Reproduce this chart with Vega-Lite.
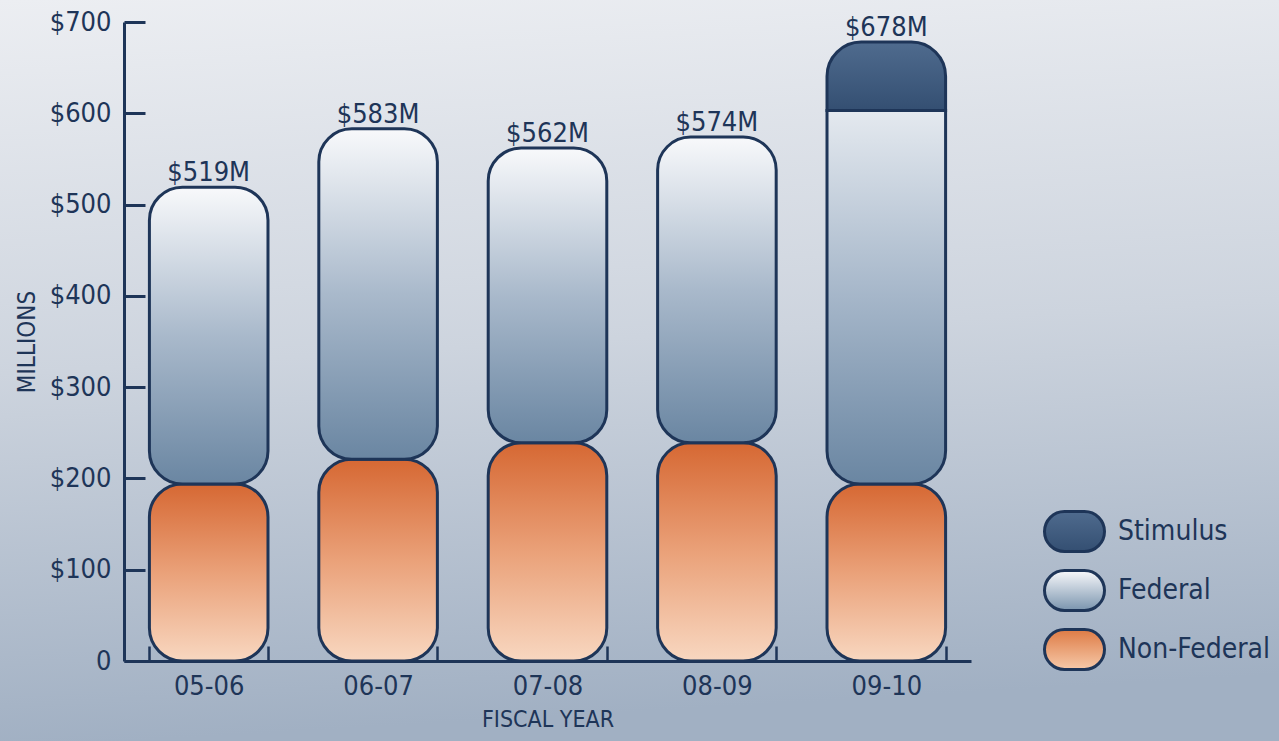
{
  "$schema": "https://vega.github.io/schema/vega-lite/v6.json",
  "width": 1279,
  "height": 741,
  "autosize": "none",
  "padding": 0,
  "background": "#c8d1dc",
  "view": {
    "stroke": null,
    "fill": {"gradient": "linear", "x1": 0, "y1": 0, "x2": 0.1, "y2": 1,
      "stops": [{"offset": 0, "color": "#eceef2"}, {"offset": 0.5, "color": "#cdd4de"}, {"offset": 1, "color": "#a1b0c3"}]}
  },
  "datasets": {
    "funding": [
      {"year": "05-06", "type": "Non-Federal", "value": 194},
      {"year": "05-06", "type": "Federal", "value": 325},
      {"year": "06-07", "type": "Non-Federal", "value": 221},
      {"year": "06-07", "type": "Federal", "value": 362},
      {"year": "07-08", "type": "Non-Federal", "value": 239},
      {"year": "07-08", "type": "Federal", "value": 323},
      {"year": "08-09", "type": "Non-Federal", "value": 239},
      {"year": "08-09", "type": "Federal", "value": 335},
      {"year": "09-10", "type": "Non-Federal", "value": 194},
      {"year": "09-10", "type": "Federal", "value": 409},
      {"year": "09-10", "type": "Stimulus", "value": 75}
    ],
    "totals": [
      {"year": "05-06", "total": 519, "label": "$519M"},
      {"year": "06-07", "total": 583, "label": "$583M"},
      {"year": "07-08", "total": 562, "label": "$562M"},
      {"year": "08-09", "total": 574, "label": "$574M"},
      {"year": "09-10", "total": 678, "label": "$678M"}
    ]
  },
  "encoding": {
    "x": {
      "field": "year", "type": "nominal", "sort": null,
      "scale": {"range": [124, 971], "paddingInner": 0.3, "paddingOuter": 0.15},
      "axis": {
        "orient": "bottom", "offset": -80, "tickBand": "extent", "tickSize": -15, "tickWidth": 2.5,
        "tickColor": "#1e3558", "domainColor": "#1e3558", "domainWidth": 3,
        "labelAngle": 0, "labelPadding": 27, "labelFontSize": 27,
        "labelFont": "Liberation Sans Narrow, DejaVu Sans Condensed, sans-serif", "labelColor": "#1e3558",
        "title": "FISCAL YEAR", "titleFontSize": 23, "titleFontWeight": "normal",
        "titleFont": "Liberation Sans Narrow, DejaVu Sans Condensed, sans-serif", "titleColor": "#1e3558", "titlePadding": 9
      }
    }
  },
  "layer": [
    {
      "data": {"name": "funding"},
      "transform": [
        {"stack": "value", "groupby": ["year"], "as": ["v0", "v1"]}
      ],
      "mark": {"type": "rule", "opacity": 0},
      "encoding": {
        "y": {
          "field": "v0", "type": "quantitative",
          "scale": {"domain": [0, 700], "range": [661, 22], "nice": false},
          "axis": {
            "orient": "left", "offset": -124, "values": [0, 100, 200, 300, 400, 500, 600, 700],
            "labelExpr": "datum.value == 0 ? '0' : '$' + datum.value",
            "grid": false, "tickSize": -21, "tickWidth": 3, "tickColor": "#1e3558",
            "domainColor": "#1e3558", "domainWidth": 3, "labelPadding": 34, "labelFontSize": 27,
            "labelFont": "Liberation Sans Narrow, DejaVu Sans Condensed, sans-serif", "labelColor": "#1e3558",
            "title": "MILLIONS", "titleFontSize": 24, "titleFontWeight": "normal",
            "titleFont": "Liberation Sans Narrow, DejaVu Sans Condensed, sans-serif", "titleColor": "#1e3558", "titlePadding": 10
          }
        },
        "y2": {"field": "v1"},
        "stroke": {
          "field": "type", "type": "nominal",
          "scale": {"domain": ["Stimulus", "Federal", "Non-Federal"], "range": ["#1e3558", "#1e3558", "#1e3558"]},
          "legend": {
            "orient": "none", "legendX": 1043, "legendY": 500, "title": null,
            "symbolType": "M-0.333,-0.667L0.333,-0.667A0.667,0.667 0 0 1 0.333,0.667L-0.333,0.667A0.667,0.667 0 0 1 -0.333,-0.667Z",
            "symbolSize": 3600, "symbolStrokeWidth": 3, "symbolOpacity": 1,
            "labelFontSize": 28, "labelFont": "Liberation Sans Narrow, DejaVu Sans Condensed, sans-serif",
            "labelColor": "#1e3558", "labelOffset": 12, "rowPadding": 1,
            "encode": {
              "symbols": {
                "update": {
                  "fill": [
                    {"test": "datum.value == 'Stimulus'", "value": {"gradient": "linear", "x1": 0, "y1": 0, "x2": 0, "y2": 1, "stops": [{"offset": 0, "color": "#4f6b8e"}, {"offset": 1, "color": "#344f72"}]}},
                    {"test": "datum.value == 'Federal'", "value": {"gradient": "linear", "x1": 0, "y1": 0, "x2": 0, "y2": 1, "stops": [{"offset": 0, "color": "#f8f9fb"}, {"offset": 1, "color": "#7a94ae"}]}},
                    {"value": {"gradient": "linear", "x1": 0, "y1": 0, "x2": 0, "y2": 1, "stops": [{"offset": 0, "color": "#de7b45"}, {"offset": 1, "color": "#f6c9a9"}]}}
                  ],
                  "opacity": {"value": 1},
                  "fillOpacity": {"value": 1},
                  "strokeOpacity": {"value": 1}
                }
              }
            }
          }
        }
      }
    },
    {
      "data": {"name": "funding"},
      "transform": [
        {"stack": "value", "groupby": ["year"], "as": ["v0", "v1"]},
        {"filter": "datum.type == 'Non-Federal'"}
      ],
      "mark": {"type": "bar", "cornerRadius": 33, "strokeWidth": 3, "stroke": "#1e3558",
        "fill": {"gradient": "linear", "x1": 0, "y1": 0, "x2": 0, "y2": 1, "stops": [{"offset": 0, "color": "#d66833"}, {"offset": 0.5, "color": "#eaa179"}, {"offset": 1, "color": "#f8d7c0"}]}},
      "encoding": {
        "y": {"field": "v0", "type": "quantitative"},
        "y2": {"field": "v1"}
      }
    },
    {
      "data": {"name": "funding"},
      "transform": [
        {"stack": "value", "groupby": ["year"], "as": ["v0", "v1"]},
        {"filter": "datum.type == 'Federal' && datum.year != '09-10'"}
      ],
      "mark": {"type": "bar", "cornerRadius": 33, "strokeWidth": 3, "stroke": "#1e3558",
        "fill": {"gradient": "linear", "x1": 0, "y1": 0, "x2": 0, "y2": 1, "stops": [{"offset": 0, "color": "#f8f9fb"}, {"offset": 0.5, "color": "#a9b9cb"}, {"offset": 1, "color": "#6a86a2"}]}},
      "encoding": {
        "y": {"field": "v0", "type": "quantitative"},
        "y2": {"field": "v1"}
      }
    },
    {
      "data": {"name": "funding"},
      "transform": [
        {"stack": "value", "groupby": ["year"], "as": ["v0", "v1"]},
        {"filter": "datum.year == '09-10' && datum.type == 'Federal'"}
      ],
      "mark": {"type": "bar", "cornerRadiusBottomLeft": 33, "cornerRadiusBottomRight": 33, "strokeWidth": 3, "stroke": "#1e3558",
        "fill": {"gradient": "linear", "x1": 0, "y1": 0, "x2": 0, "y2": 1, "stops": [{"offset": 0, "color": "#e4e9ef"}, {"offset": 0.5, "color": "#a5b6c9"}, {"offset": 1, "color": "#6a86a2"}]}},
      "encoding": {
        "y": {"field": "v0", "type": "quantitative"},
        "y2": {"field": "v1"}
      }
    },
    {
      "data": {"name": "funding"},
      "transform": [
        {"stack": "value", "groupby": ["year"], "as": ["v0", "v1"]},
        {"filter": "datum.year == '09-10' && datum.type == 'Stimulus'"}
      ],
      "mark": {"type": "bar", "cornerRadiusTopLeft": 40, "cornerRadiusTopRight": 40, "strokeWidth": 3, "stroke": "#1e3558",
        "fill": {"gradient": "linear", "x1": 0, "y1": 0, "x2": 0, "y2": 1, "stops": [{"offset": 0, "color": "#4f6b8e"}, {"offset": 1, "color": "#344f72"}]}},
      "encoding": {
        "y": {"field": "v0", "type": "quantitative"},
        "y2": {"field": "v1"}
      }
    },
    {
      "data": {"name": "totals"},
      "mark": {"type": "text", "baseline": "alphabetic", "dy": -6, "fontSize": 27,
        "font": "Liberation Sans Narrow, DejaVu Sans Condensed, sans-serif", "color": "#1e3558"},
      "encoding": {
        "y": {"field": "total", "type": "quantitative"},
        "text": {"field": "label"}
      }
    }
  ]
}
